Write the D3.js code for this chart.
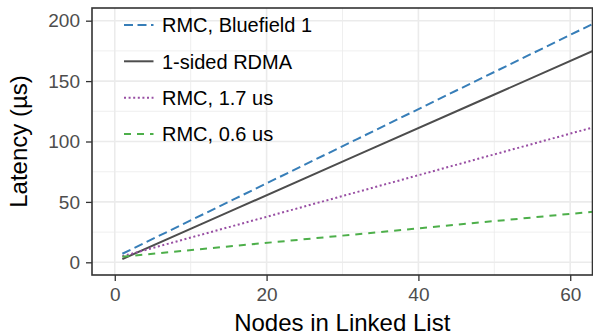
<!DOCTYPE html>
<html>
<head>
<meta charset="utf-8">
<script src="https://cdn.jsdelivr.net/npm/d3@7"></script>
<style>
  body { margin: 0; background: #fff; }
  svg { display: block; font-family: "Liberation Sans", Arial, Helvetica, sans-serif; }
</style>
</head>
<body>
<svg id="chart" width="593" height="335"></svg>
<script>
// ---- data ----
const nodes = [1, 16, 32, 48, 64];
const seriesNames = ["RMC, Bluefield 1", "1-sided RDMA", "RMC, 1.7 us", "RMC, 0.6 us"];
const bluefield = [7.1, 53.1, 102.2, 151.4, 200.5];
const rdma = [2.7, 44.4, 88.9, 133.3, 177.8];
const rmc17 = [5.0, 30.8, 58.3, 85.9, 113.4];
const rmc06 = [4.7, 13.7, 23.3, 32.9, 42.5];
const xTicks = [0, 20, 40, 60];
const yTicks = [0, 50, 100, 150, 200];
const xMinor = [10, 30, 50];
const yMinor = [25, 75, 125, 175];
const colors = ["#377eb8", "#4d4d4d", "#984ea3", "#4daf4a"];
const dashes = ["9,4.5", null, "2,2.6", "7,6"];

const seriesValues = [bluefield, rdma, rmc17, rmc06];

const svg = d3.select("#chart");
const L = 92, R = 592.5, T = 8, B = 275;

const x = d3.scaleLinear().domain([-3, 63]).range([L, 593]);
const y = d3.scaleLinear().domain([-10.5, 210.5]).range([B, T]);

// grid
const grid = svg.append("g");
grid.selectAll(".vmin").data(xMinor).join("line")
  .attr("x1", d => x(d)).attr("x2", d => x(d)).attr("y1", T).attr("y2", B)
  .attr("stroke", "#ebebeb").attr("stroke-width", 0.8);
grid.selectAll(".hmin").data(yMinor).join("line")
  .attr("y1", d => y(d)).attr("y2", d => y(d)).attr("x1", L).attr("x2", R)
  .attr("stroke", "#ebebeb").attr("stroke-width", 0.8);
grid.selectAll(".vmaj").data(xTicks).join("line")
  .attr("x1", d => x(d)).attr("x2", d => x(d)).attr("y1", T).attr("y2", B)
  .attr("stroke", "#ebebeb").attr("stroke-width", 1.6);
grid.selectAll(".hmaj").data(yTicks).join("line")
  .attr("y1", d => y(d)).attr("y2", d => y(d)).attr("x1", L).attr("x2", R)
  .attr("stroke", "#ebebeb").attr("stroke-width", 1.6);

// clip
svg.append("clipPath").attr("id", "clip").append("rect")
  .attr("x", L).attr("y", T).attr("width", R - L).attr("height", B - T);

const line = d3.line().x((d, i) => x(nodes[i])).y(d => y(d));
const lines = svg.append("g").attr("clip-path", "url(#clip)");
seriesValues.forEach((vals, k) => {
  lines.append("path").datum(vals)
    .attr("d", line)
    .attr("fill", "none")
    .attr("stroke", colors[k])
    .attr("stroke-width", 2)
    .attr("stroke-dasharray", dashes[k]);
});

// legend
const legend = svg.append("g");
const legY = [25, 61.3, 97.7, 134];
seriesNames.forEach((name, k) => {
  legend.append("line")
    .attr("x1", 124).attr("x2", 153.5).attr("y1", legY[k]).attr("y2", legY[k])
    .attr("stroke", colors[k]).attr("stroke-width", 2)
    .attr("stroke-dasharray", dashes[k]);
  legend.append("text")
    .attr("x", 162).attr("y", legY[k]).attr("dy", "0.36em")
    .attr("font-size", 20).attr("fill", "#000").text(name);
});

// panel border
svg.append("rect").attr("x", L).attr("y", T).attr("width", R - L).attr("height", B - T)
  .attr("fill", "none").attr("stroke", "#333").attr("stroke-width", 1.6);

// axes
const xAxis = svg.append("g").attr("transform", `translate(0,${B})`)
  .call(d3.axisBottom(x).tickValues(xTicks).tickSize(6).tickPadding(7));
const yAxis = svg.append("g").attr("transform", `translate(${L},0)`)
  .call(d3.axisLeft(y).tickValues(yTicks).tickSize(6).tickPadding(6));
[xAxis, yAxis].forEach(a => {
  a.select(".domain").remove();
  a.selectAll(".tick line").attr("stroke", "#333").attr("stroke-width", 1.3);
  a.selectAll(".tick text").attr("fill", "#4d4d4d").attr("font-size", 19)
    .attr("font-family", "'Liberation Sans', Arial, sans-serif");
});

// titles
svg.append("text").attr("x", (L + R) / 2).attr("y", 330.5)
  .attr("text-anchor", "middle").attr("font-size", 24).attr("fill", "#000")
  .text("Nodes in Linked List");
svg.append("text")
  .attr("transform", `translate(27,${(T + B) / 2}) rotate(-90)`)
  .attr("text-anchor", "middle").attr("font-size", 24).attr("fill", "#000")
  .text("Latency (µs)");
</script>
</body>
</html>
